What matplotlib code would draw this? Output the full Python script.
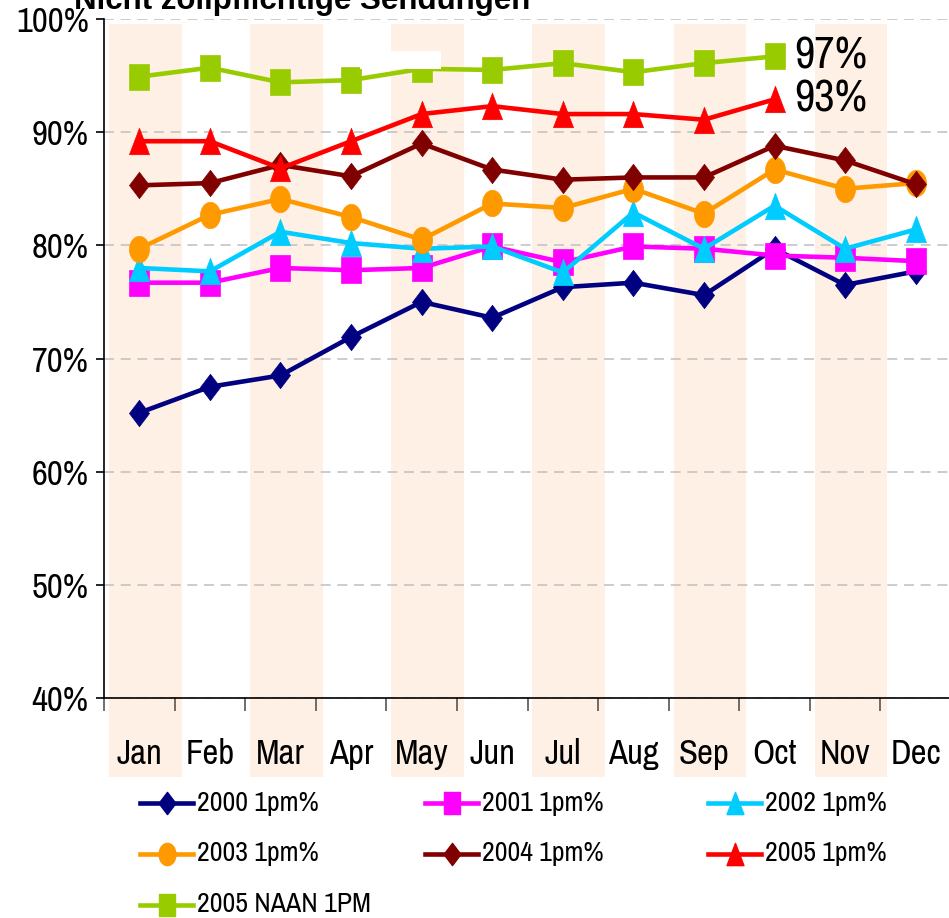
import numpy as np
import matplotlib
matplotlib.use("Agg")
import matplotlib.pyplot as plt
from matplotlib import font_manager
from matplotlib.path import Path
from matplotlib.lines import Line2D
from matplotlib.patches import Rectangle
from matplotlib.transforms import blended_transform_factory

# the original uses a narrow sans; use one if the system has it
narrow = [f for f in font_manager.fontManager.ttflist
          if "narrow" in f.fname.lower() and "bold" not in f.fname.lower()
          and "italic" not in f.fname.lower()]
cond = [f for f in font_manager.fontManager.ttflist
        if "condensed" in f.fname.lower() and "bold" not in f.fname.lower()
        and "oblique" not in f.fname.lower() and "italic" not in f.fname.lower()]
if narrow:
    plt.rcParams['font.family'] = [narrow[0].name, 'Liberation Sans', 'DejaVu Sans']
    fs = 1.0
elif cond:
    plt.rcParams['font.family'] = [cond[0].name, 'Liberation Sans', 'DejaVu Sans']
    plt.rcParams['font.stretch'] = 'condensed'
    fs = 0.86
else:
    plt.rcParams['font.family'] = ['Liberation Sans', 'DejaVu Sans']
    fs = 0.86

# monthly share of shipments delivered by 1pm (%)
months = ["Jan", "Feb", "Mar", "Apr", "May", "Jun", "Jul", "Aug", "Sep", "Oct", "Nov", "Dec"]
y2000 = [65.2, 67.5, 68.5, 71.9, 75.0, 73.6, 76.3, 76.7, 75.6, 79.7, 76.5, 77.7]
y2001 = [76.7, 76.7, 78.0, 77.8, 78.0, 79.9, 78.5, 79.9, 79.7, 79.1, 78.9, 78.6]
y2002 = [78.0, 77.7, 81.2, 80.2, 79.7, 79.9, 77.6, 82.9, 79.7, 83.5, 79.7, 81.4]
y2003 = [79.7, 82.7, 84.1, 82.5, 80.5, 83.7, 83.3, 85.0, 82.8, 86.7, 85.0, 85.5]
y2004 = [85.3, 85.5, 87.1, 86.1, 89.0, 86.7, 85.8, 86.0, 86.0, 88.8, 87.5, 85.4]
y2005 = [89.2, 89.2, 86.8, 89.2, 91.6, 92.3, 91.6, 91.6, 91.1, 92.9]
y2005_naan = [94.9, 95.7, 94.4, 94.6, 95.6, 95.5, 96.1, 95.3, 96.1, 96.7]

series_names = ["2000 1pm%", "2001 1pm%", "2002 1pm%", "2003 1pm%",
                "2004 1pm%", "2005 1pm%", "2005 NAAN 1PM"]
series_values = [y2000, y2001, y2002, y2003, y2004, y2005, y2005_naan]
series_colors = ["#000080", "#ff00ff", "#00ccff", "#ff9900", "#800000", "#ff0000", "#99cc00"]

# markers are a bit squeezed sideways like in the original
sx = 0.76
diamond = Path([(0, 1), (sx, 0), (0, -1), (-sx, 0), (0, 1)], closed=True)
square = Path([(-sx, -1), (sx, -1), (sx, 1), (-sx, 1), (-sx, -1)], closed=True)
tri = Path([(0, 1), (-sx, -1), (sx, -1), (0, 1)], closed=True)
circ = Path.unit_circle()
ellipse = Path(circ.vertices * np.array([sx, 1.0]), circ.codes)
series_markers = [diamond, square, tri, ellipse, diamond, tri, square]

fig = plt.figure(figsize=(9.49, 9.18), dpi=100)
W, H = 949.0, 918.0
ax = fig.add_axes([104 / W, 1 - 698 / H, 847 / W, 679 / H])

x = np.arange(len(months))

# shaded month bands (they reach down behind the month labels)
trans = blended_transform_factory(ax.transData, fig.transFigure)
for i in range(0, 12, 2):
    ax.add_patch(Rectangle((i - 0.43, 1 - 777 / H), 1.03, (777 - 24) / H,
                           transform=trans, facecolor="#fef0e4", edgecolor="none",
                           zorder=0.5, clip_on=False))

for name, vals, col, mk in zip(series_names, series_values, series_colors, series_markers):
    vals = np.array(vals) / 100.0
    ax.plot(x[:len(vals)], vals, color=col, lw=3.3, marker=mk, ms=19,
            markerfacecolor=col, markeredgecolor=col, markeredgewidth=0.5,
            label=name, zorder=3)

# end labels for the current year
for vals in [y2005_naan, y2005]:
    i = len(vals) - 1
    ax.annotate("%d%%" % round(vals[i]), xy=(x[i], vals[i] / 100.0), xytext=(14, 0),
                textcoords="offset points", va="center", ha="left", fontsize=32 * fs,
                zorder=5)

ax.set_xlim(-0.5, 11.5)
ax.set_ylim(0.4, 1.0)
ax.set_yticks(np.arange(0.4, 1.001, 0.1))
ax.set_yticklabels(["%d%%" % round(v * 100) for v in np.arange(0.4, 1.001, 0.1)])
ax.tick_params(axis="y", labelsize=25 * fs, length=6, width=1.2, pad=5)

ax.set_xticks(np.arange(-0.5, 11, 1))
ax.set_xticklabels([])
ax.set_xticks(x, minor=True)
ax.set_xticklabels(months, minor=True)
ax.tick_params(axis="x", which="major", length=9, width=1.2, color="#555555")
ax.tick_params(axis="x", which="minor", length=0, labelsize=25 * fs, pad=29)

ax.yaxis.grid(True, linestyle=(0, (6, 4)), color="#c4c4c4", linewidth=1.2)
ax.spines["top"].set_visible(False)
ax.spines["right"].set_visible(False)
ax.spines["left"].set_linewidth(1.2)
ax.spines["bottom"].set_linewidth(1.2)

# title, mostly cut off at the top edge
fig.text(302 / W, 1 - 9 / H, "Nicht zollpflichtige Sendungen", ha="center",
         va="baseline", fontsize=22.5, fontweight="bold",
         family=["Liberation Sans", "DejaVu Sans"])

# small white box sitting over the May band
fig.add_artist(Rectangle((360 / W, 1 - 69 / H), 81 / W, 18 / H,
                         transform=fig.transFigure, facecolor="white",
                         edgecolor="none", zorder=10))

# legend, 3 equal columns in reading order
col_x = [140, 425, 708]
row_y = [803, 854, 905]
for k, (name, col, mk) in enumerate(zip(series_names, series_colors, series_markers)):
    r, c = divmod(k, 3)
    x0 = col_x[c] / W
    yy = 1 - row_y[r] / H
    fig.add_artist(Line2D([x0, x0 + 53 / W], [yy, yy], color=col, lw=3.3,
                          transform=fig.transFigure))
    fig.add_artist(Line2D([x0 + 26.5 / W], [yy], color=col, marker=mk, ms=16,
                          markerfacecolor=col, markeredgecolor=col,
                          transform=fig.transFigure))
    fig.text(x0 + 57 / W, yy, name, fontsize=20 * fs, va="center", ha="left")

fig.savefig("out.png", dpi=100)
